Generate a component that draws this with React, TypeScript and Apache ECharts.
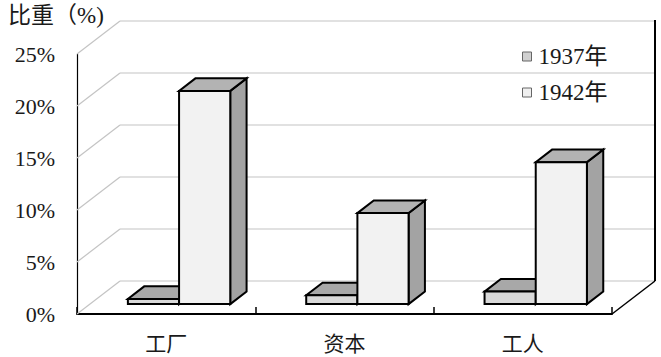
import React, { useEffect, useRef } from "react";
import * as echarts from "echarts";

const categories = ["工厂", "资本", "工人"];
const seriesNames = ["1937年", "1942年"];
const values1937 = [0.5, 0.85, 1.2];
const values1942 = [20.5, 8.75, 13.65];
const yTicks = [0, 5, 10, 15, 20, 25];
const titleText = "比重（%)";

const DX = 43;
const DY = -33;
const FRONT = 0.3;
const BACK = 0.68;
const BAR_RATIO = 0.287;

const SERIF = "'Liberation Serif', 'Noto Sans CJK SC', serif";
const CJK = "'Noto Sans CJK SC', sans-serif";

const faceColors = [
  { front: "#d9d9d9", top: "#a8a8a8", side: "#9a9a9a" },
  { front: "#f2f2f2", top: "#b3b3b3", side: "#a3a3a3" },
];

function makeBarRender(idx: number) {
  return (params: any, api: any) => {
    const cat = api.value(0);
    const val = api.value(1);
    const base = api.coord([cat, 0]);
    const top = api.coord([cat, val]);
    const bandW = api.size([1, 0])[0];
    const barW = bandW * BAR_RATIO;
    const fx = DX * FRONT;
    const fy = DY * FRONT;
    const ddx = DX * (BACK - FRONT);
    const ddy = DY * (BACK - FRONT);
    const cx = base[0] + fx;
    const x0 = idx === 0 ? cx - barW : cx;
    const x1 = idx === 0 ? cx : cx + barW;
    const by = base[1] + fy;
    const ty = top[1] + fy;
    const c = faceColors[idx];
    const stroke = { stroke: "#000", lineWidth: 2, lineJoin: "miter" };
    return {
      type: "group",
      children: [
        {
          type: "polygon",
          shape: { points: [[x1, by], [x1 + ddx, by + ddy], [x1 + ddx, ty + ddy], [x1, ty]] },
          style: { fill: c.side, ...stroke },
        },
        {
          type: "polygon",
          shape: { points: [[x0, ty], [x1, ty], [x1 + ddx, ty + ddy], [x0 + ddx, ty + ddy]] },
          style: { fill: c.top, ...stroke },
        },
        {
          type: "polygon",
          shape: { points: [[x0, by], [x1, by], [x1, ty], [x0, ty]] },
          style: { fill: c.front, ...stroke },
        },
      ],
    };
  };
}

function renderWalls(params: any, api: any) {
  const v = api.value(1);
  const cs = params.coordSys;
  const left = cs.x;
  const right = cs.x + cs.width;
  const y = api.coord([0, v])[1];
  const bottom = api.coord([0, 0])[1];
  const topY = api.coord([0, yTicks[yTicks.length - 1]])[1];
  const grey = { stroke: "#c4c4c4", lineWidth: 1.2 };
  const children: any[] = [
    { type: "line", shape: { x1: left + DX, y1: y + DY, x2: right + DX, y2: y + DY }, style: grey },
    { type: "line", shape: { x1: left, y1: y, x2: left + DX, y2: y + DY }, style: grey },
  ];
  if (params.dataIndex === yTicks.length - 1) {
    children.push({
      type: "line",
      shape: { x1: right + DX, y1: topY + DY - 1, x2: right + DX, y2: bottom + DY },
      style: { stroke: "#000", lineWidth: 2 },
    });
    children.push({
      type: "line",
      shape: { x1: right, y1: bottom, x2: right + DX, y2: bottom + DY },
      style: { stroke: "#000", lineWidth: 1.5 },
    });
  }
  return { type: "group", children };
}

export default function App() {
  const ref = useRef<HTMLDivElement>(null);
  useEffect(() => {
    document.body.style.margin = "0";
    const chart = echarts.init(ref.current!, null, { renderer: "svg" });
    chart.setOption({
      animation: false,
      backgroundColor: "#ffffff",
      title: {
        text: titleText,
        left: 8,
        top: 4,
        padding: 0,
        textStyle: { fontSize: 23, fontWeight: "normal", fontFamily: SERIF, color: "#1a1a1a" },
      },
      legend: {
        orient: "vertical",
        left: 522,
        top: 45,
        padding: 0,
        itemWidth: 9,
        itemHeight: 9,
        itemGap: 13,
        icon: "rect",
        textStyle: { fontSize: 23, fontFamily: SERIF, color: "#1a1a1a", padding: [0, 0, 0, 2] },
        data: [
          { name: seriesNames[0], itemStyle: { color: "#d0d0d0", borderColor: "#666", borderWidth: 1 } },
          { name: seriesNames[1], itemStyle: { color: "#f0f0f0", borderColor: "#666", borderWidth: 1 } },
        ],
      },
      grid: { left: 77, right: 49, top: 54, bottom: 43 },
      xAxis: {
        type: "category",
        data: categories,
        boundaryGap: true,
        axisLine: { lineStyle: { color: "#000", width: 2 } },
        axisTick: { show: true, inside: true, length: 7, alignWithLabel: false, lineStyle: { color: "#000", width: 1.5 } },
        axisLabel: { margin: 17, fontSize: 21, lineHeight: 21, fontFamily: CJK, color: "#1a1a1a" },
        splitLine: { show: false },
      },
      yAxis: {
        type: "value",
        min: 0,
        max: 25,
        interval: 5,
        axisLine: { show: true, lineStyle: { color: "#000", width: 1.2 } },
        axisTick: { show: false },
        splitLine: { show: false },
        axisLabel: { formatter: "{value}%", margin: 22, fontSize: 22, fontFamily: SERIF, color: "#1a1a1a" },
      },
      series: [
        {
          name: "walls",
          type: "custom",
          z: 1,
          silent: true,
          renderItem: renderWalls,
          data: yTicks.map((t) => [0, t]),
        },
        {
          name: seriesNames[0],
          type: "custom",
          z: 2,
          itemStyle: { color: "#d0d0d0" },
          renderItem: makeBarRender(0),
          data: values1937.map((v, i) => [i, v]),
        },
        {
          name: seriesNames[1],
          type: "custom",
          z: 3,
          itemStyle: { color: "#f0f0f0" },
          renderItem: makeBarRender(1),
          data: values1942.map((v, i) => [i, v]),
        },
      ],
    });
    return () => chart.dispose();
  }, []);
  return <div ref={ref} style={{ width: 661, height: 357 }} />;
}
